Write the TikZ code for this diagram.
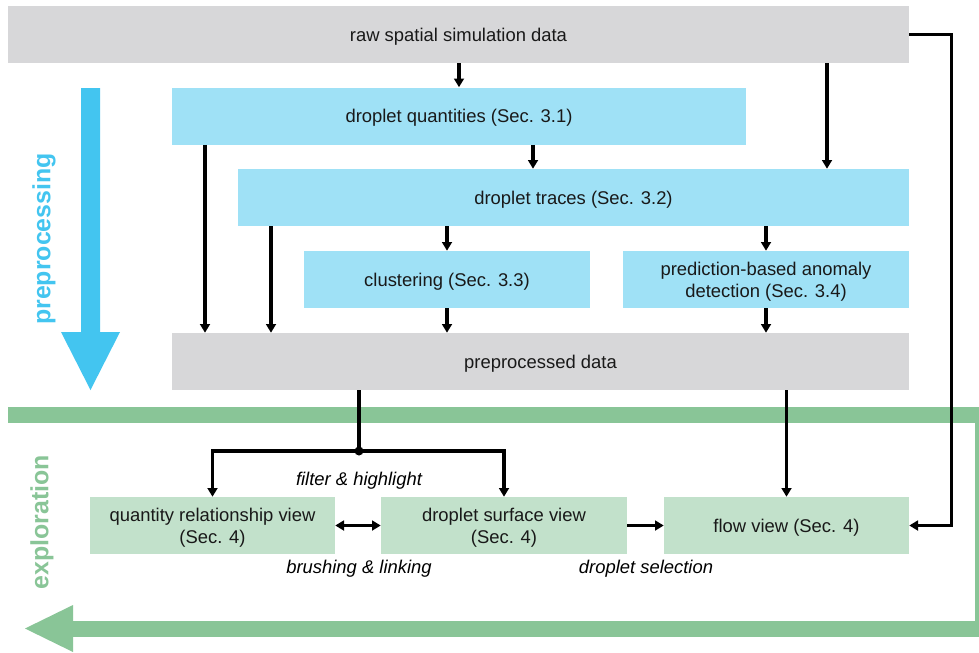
\documentclass[tikz,border=0pt]{standalone}
\usepackage{fontspec}
\setmainfont{Liberation Sans}
\usetikzlibrary{arrows.meta}
\definecolor{rawgray}{HTML}{D7D7D9}
\definecolor{lblue}{HTML}{9FE1F6}
\definecolor{dblue}{HTML}{43C5F0}
\definecolor{lgreen}{HTML}{C2E1CB}
\definecolor{dgreen}{HTML}{89C597}
\begin{document}
\begin{tikzpicture}[x=0.025cm,y=-0.025cm,
  box/.style={minimum height={57*0.025cm}, inner sep=0pt, align=center, text depth=0pt,
    font=\fontsize{13.1}{15.6}\selectfont, text=black!90},
  graybox/.style={box, fill=rawgray},
  bluebox/.style={box, fill=lblue},
  greenbox/.style={box, fill=lgreen},
  arr/.style={line width=2.3pt, -{Triangle[length=6.2pt,width=7pt]}},
  darr/.style={line width=2.3pt, {Triangle[length=6.2pt,width=7pt]}-{Triangle[length=6.2pt,width=7pt]}},
  lbl/.style={font=\itshape\fontsize{13.1}{15.6}\selectfont, inner sep=0pt},
  phase/.style={rotate=90, inner sep=0pt, font=\bfseries\fontsize{17.7}{20}\selectfont}]
\clip (0,0) rectangle (979,652);
\fill[white] (0,0) rectangle (979,652);

% big phase arrows
\fill[dblue] (81,88) -- (100,88) -- (100,332) -- (120,332) -- (90.5,390) -- (61,332) -- (81,332) -- cycle;
\draw[dgreen, line width={16*0.025cm}, line join=miter] (8,415) -- (983,415) -- (983,628.5) -- (73,628.5);
\fill[dgreen] (73,605) -- (25,628.5) -- (73,652) -- cycle;
\node[phase, text=dblue] (ptxt) at (44,239) {preprocessing};
\node[phase, text=dgreen] (etxt) at (42,522) {exploration};

% boxes
\node[graybox, minimum width={901*0.025cm}] (raw) at (458.5,34.5) {raw spatial simulation data};
\node[bluebox, minimum width={574*0.025cm}] (quant) at (459,116) {droplet quantities (Sec. 3.1)};
\node[bluebox, minimum width={671*0.025cm}] (traces) at (573.5,197.5) {droplet traces (Sec. 3.2)};
\node[bluebox, minimum width={286*0.025cm}] (clust) at (447,279.5) {clustering (Sec. 3.3)};
\node[bluebox, minimum width={286*0.025cm}] (pred) at (766,279.5) {prediction-based anomaly\\detection (Sec. 3.4)};
\node[graybox, minimum width={737*0.025cm}] (prep) at (540.5,361.5) {preprocessed data};
\node[greenbox, minimum width={245*0.025cm}] (qview) at (212.5,525.5) {quantity relationship view\\(Sec. 4)};
\node[greenbox, minimum width={246*0.025cm}] (sview) at (504,525.5) {droplet surface view\\(Sec. 4)};
\node[greenbox, minimum width={245*0.025cm}] (fview) at (786.5,525.5) {flow view (Sec. 4)};

% helper x positions
\coordinate (xa) at (827,0);
\coordinate (xb) at (533,0);
\coordinate (xc) at (205,0);
\coordinate (xd) at (271,0);
\coordinate (split) at (359,451);

% connectors
\draw[arr] (raw.south -| quant.north) -- (quant.north);
\draw[arr] (raw.south -| xa) -- (traces.north -| xa);
\draw[arr] (raw.east) -- ++(42,0) |- (fview.east);
\draw[arr] (quant.south -| xb) -- (traces.north -| xb);
\draw[arr] (quant.south -| xc) -- (prep.north -| xc);
\draw[arr] (traces.south -| xd) -- (prep.north -| xd);
\draw[arr] (traces.south -| clust.north) -- (clust.north);
\draw[arr] (traces.south -| pred.north) -- (pred.north);
\draw[arr] (clust.south) -- (prep.north -| clust.south);
\draw[arr] (pred.south) -- (prep.north -| pred.south);
\draw[line width=2.3pt] (prep.south -| split) -- (split);
\fill (split) circle (4.5);
\draw[arr] (split) -| (qview.north);
\draw[arr] (split) -| (sview.north);
\draw[arr] (prep.south -| fview.north) -- (fview.north);
\draw[darr] (qview.east) -- (sview.west);
\draw[arr] (sview.east) -- (fview.west);

% labels
\node[lbl] (l1) at (359,481) {filter \& highlight};
\node[lbl] (l2) at (359,569) {brushing \& linking};
\node[lbl] (l3) at (646,569) {droplet selection};
\end{tikzpicture}
\end{document}
